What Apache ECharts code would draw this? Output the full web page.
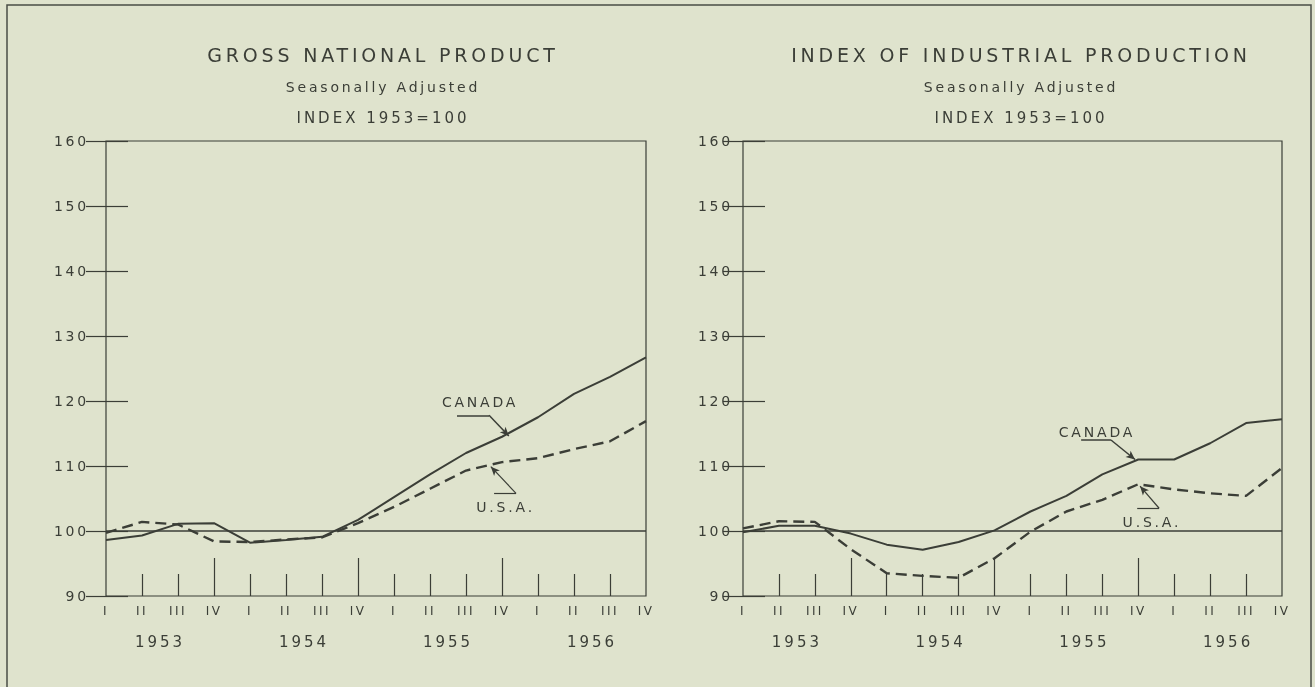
<!DOCTYPE html>
<html>
<head>
<meta charset="utf-8">
<script src="https://cdn.jsdelivr.net/npm/echarts@6/dist/echarts.min.js"></script>
<style>
html, body { margin: 0; padding: 0; background: #dfe3cd; }
#chart { width: 1315px; height: 687px; }
#chart svg { will-change: transform; }
#chart text { letter-spacing: 0.2em; }
</style>
</head>
<body>
<div id="chart"></div>
<script>
// quarters 1953 I .. 1956 IV
const quarters = ['I', 'II', 'III', 'IV', 'I', 'II', 'III', 'IV', 'I', 'II', 'III', 'IV', 'I', 'II', 'III', 'IV'];
const years = ['1953', '1954', '1955', '1956'];

// gross national product, index 1953=100
const gnpCanada = [98.6, 99.3, 101.1, 101.2, 98.2, 98.6, 99.1, 101.7, 105.2, 108.7, 112.0, 114.5, 117.5, 121.1, 123.7, 126.7];
const gnpUSA = [99.7, 101.4, 101.0, 98.4, 98.3, 98.7, 99.0, 101.2, 103.7, 106.5, 109.3, 110.6, 111.2, 112.6, 113.8, 116.9];

// industrial production, index 1953=100
const ipCanada = [99.8, 100.8, 100.8, 99.6, 97.9, 97.1, 98.3, 100.1, 103.0, 105.4, 108.7, 111.0, 111.0, 113.5, 116.6, 117.2];
const ipUSA = [100.4, 101.5, 101.4, 97.2, 93.5, 93.1, 92.8, 95.8, 99.9, 103.0, 104.8, 107.2, 106.4, 105.8, 105.4, 109.7];

const titles = ['GROSS NATIONAL PRODUCT', 'INDEX OF INDUSTRIAL PRODUCTION'];

const ink = '#3b3e37';
const font = 'DejaVu Sans';

// label + leader line (x in quarter index, y in index value)
const notes = [
  { canada: { text: [10.39, 119.8], line: [[9.75, 117.8], [10.64, 117.8]], tip: [11.19, 114.6] },
    usa: { text: [11.1, 103.7], line: [[10.78, 105.8], [11.39, 105.8]], tip: [10.69, 109.9] } },
  { canada: { text: [9.85, 115.2], line: [[9.41, 114.0], [10.24, 114.0]], tip: [10.91, 111.0] },
    usa: { text: [11.38, 101.4], line: [[10.97, 103.5], [11.58, 103.5]], tip: [11.05, 106.9] } }
];

const chart = echarts.init(document.getElementById('chart'), null, { renderer: 'svg' });

const plotCenters = [378, 1016];
const title = [];
titles.forEach(function (t, g) {
  title.push({ text: t, left: plotCenters[g], top: 40, textAlign: 'center',
    textStyle: { fontFamily: font, fontSize: 19, fontWeight: 'normal', color: ink } });
  title.push({ text: 'Seasonally Adjusted', left: plotCenters[g], top: 75, textAlign: 'center',
    textStyle: { fontFamily: font, fontSize: 14, fontWeight: 'normal', color: ink } });
  title.push({ text: 'INDEX 1953=100', left: plotCenters[g], top: 105, textAlign: 'center',
    textStyle: { fontFamily: font, fontSize: 15, fontWeight: 'normal', color: ink } });
});

const xAxis = [];
const yAxis = [];
[0, 1].forEach(function (g) {
  // quarter ticks and labels
  xAxis.push({
    gridIndex: g, type: 'value', min: 0, max: 15, position: 'bottom',
    axisLine: { show: false },
    splitLine: { show: false },
    axisTick: { inside: true, length: 22, customValues: [1, 2, 4, 5, 6, 8, 9, 10, 12, 13, 14],
      lineStyle: { color: ink, width: 1.2 } },
    axisLabel: { customValues: quarters.map(function (q, i) { return i; }),
      formatter: function (v) { return quarters[v]; },
      margin: 9, color: ink, fontFamily: font, fontSize: 12 }
  });
  // year ticks and labels
  xAxis.push({
    gridIndex: g, type: 'value', min: 0, max: 15, position: 'bottom',
    axisLine: { show: false },
    splitLine: { show: false },
    axisTick: { show: true, inside: true, length: 38, customValues: [3, 7, 11],
      lineStyle: { color: ink, width: 1.2 } },
    axisLabel: { customValues: [1.5, 5.5, 9.5, 13.5],
      formatter: function (v) { return years[Math.round((v - 1.5) / 4)]; },
      margin: 38, color: ink, fontFamily: font, fontSize: 15 }
  });
  yAxis.push({
    gridIndex: g, type: 'value', min: 90, max: 160, interval: 10, position: 'left',
    axisLine: { show: false },
    axisTick: { inside: true, length: 22, lineStyle: { color: ink, width: 1.2 } },
    splitLine: { show: false },
    axisLabel: { margin: g === 0 ? 17 : 10, color: ink, fontFamily: font, fontSize: 14 }
  });
  yAxis.push({
    gridIndex: g, type: 'value', min: 90, max: 160, interval: 10, position: 'right',
    axisLine: { show: false },
    axisTick: { inside: true, length: 20, lineStyle: { color: ink, width: 1.2 } },
    splitLine: { show: false },
    axisLabel: { show: false }
  });
});

function pairs(values) {
  return values.map(function (v, i) { return [i, v]; });
}

function noteMarks(n, label) {
  return {
    markPoint: {
      silent: true, symbolSize: 0,
      label: { show: true, position: 'inside', formatter: label, color: ink, fontFamily: font, fontSize: 14 },
      data: [{ coord: n.text }]
    },
    leader: [
      [{ coord: n.line[0], symbol: 'none' }, { coord: n.line[1], symbol: 'none' }],
      [{ coord: n.line[1], symbol: 'none' }, { coord: n.tip, symbol: 'arrow', symbolSize: [6, 9] }]
    ]
  };
}

const sets = [[gnpCanada, gnpUSA], [ipCanada, ipUSA]];
const series = [];
sets.forEach(function (s, g) {
  const cn = noteMarks(notes[g].canada, 'CANADA');
  const us = noteMarks(notes[g].usa, 'U.S.A.');
  series.push({
    type: 'line', xAxisIndex: g * 2, yAxisIndex: g * 2,
    data: pairs(s[0]), showSymbol: false, symbol: 'none',
    lineStyle: { color: ink, width: 2 },
    markPoint: cn.markPoint,
    markLine: {
      silent: true, symbol: 'none', label: { show: false },
      lineStyle: { color: ink, width: 1.5, type: 'solid' },
      data: [{ yAxis: 100 }].concat(cn.leader)
    }
  });
  series.push({
    type: 'line', xAxisIndex: g * 2, yAxisIndex: g * 2,
    data: pairs(s[1]), showSymbol: false, symbol: 'none',
    lineStyle: { color: ink, width: 2.4, type: [11, 6] },
    markPoint: us.markPoint,
    markLine: {
      silent: true, symbol: 'none', label: { show: false },
      lineStyle: { color: ink, width: 1.2, type: 'solid' },
      data: us.leader
    }
  });
});

chart.setOption({
  backgroundColor: 'transparent',
  animation: false,
  title: title,
  grid: [
    { left: 106, right: 669, top: 141, bottom: 91, show: true, borderColor: ink, borderWidth: 1.2, backgroundColor: 'transparent' },
    { left: 743, right: 33, top: 141, bottom: 91, show: true, borderColor: ink, borderWidth: 1.2, backgroundColor: 'transparent' }
  ],
  xAxis: xAxis,
  yAxis: yAxis,
  series: series,
  graphic: [{
    type: 'polyline', silent: true,
    shape: { points: [[7, 687], [7, 5], [1311, 5], [1311, 687]] },
    style: { stroke: '#4a4d45', lineWidth: 1.5, fill: null }
  }]
});
</script>
</body>
</html>
